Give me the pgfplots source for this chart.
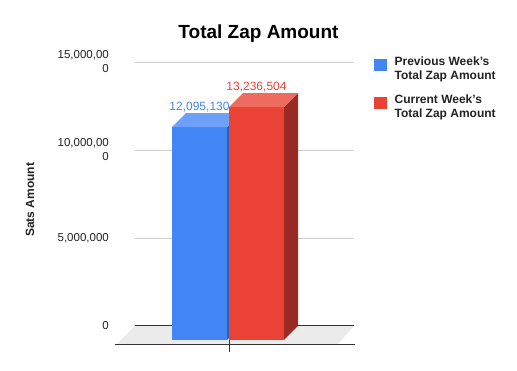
\documentclass[border=0pt]{standalone}
\usepackage{pgfplots}
\pgfplotsset{compat=1.18}
\usepackage{fontspec}
\setmainfont{Liberation Sans}
\definecolor{gblue}{HTML}{4285F4}
\definecolor{gbluetop}{HTML}{6FA0F7}
\definecolor{gblueside}{HTML}{2B5FB5}
\definecolor{gred}{HTML}{EA4335}
\definecolor{gredtop}{HTML}{EE6B5F}
\definecolor{gredside}{HTML}{992B24}
\definecolor{gridc}{HTML}{CCCCCC}
\definecolor{floorc}{HTML}{EBEBEB}
\definecolor{axc}{HTML}{333333}
\definecolor{txt}{HTML}{222222}
\begin{document}
\begin{tikzpicture}
\begin{axis}[
  width=517pt, height=371pt, scale only axis,
  xmin=0, xmax=517, ymin=-2556800, ymax=18522700,
  clip=false,
  axis line style={draw=none},
  tick style={draw=none},
  xtick=\empty,
  ytick={0,5000000,10000000,15000000},
  yticklabels={0,{5,000,000},{10,000,00\\0},{15,000,00\\0}},
  scaled y ticks=false,
  yticklabel style={align=right, inner sep=0pt, xshift=109pt, text=txt,
    font=\fontsize{11.5}{14}\selectfont},
  ylabel={Sats Amount},
  ylabel style={at={(axis description cs:0.058,0.461)}, anchor=center,
    font=\bfseries\fontsize{12}{14}\selectfont, text=txt},
  legend style={at={(axis cs:374,15284042)}, anchor=north west, draw=none, fill=none,
    inner sep=0pt, row sep=14pt, column sep=8pt,
    font=\bfseries\fontsize{12}{13.5}\selectfont, text=txt,
    nodes={align=left, inner sep=0pt}},
  legend cell align=left,
]
\addlegendimage{legend image code/.code={\fill[gblue] (0pt,-1pt) rectangle (12pt,10pt);}}
\addlegendentry{Previous Week's\\Total Zap Amount}
\addlegendimage{legend image code/.code={\fill[gred] (0pt,-1pt) rectangle (12pt,10pt);}}
\addlegendentry{Current Week's\\Total Zap Amount}
% grid lines
\addplot[gridc, line width=0.9pt, forget plot] coordinates {(135,5000000)(354,5000000)};
\addplot[gridc, line width=0.9pt, forget plot] coordinates {(135,10000000)(354,10000000)};
\addplot[gridc, line width=0.9pt, forget plot] coordinates {(135,15000000)(354,15000000)};
% floor
\addplot[fill=floorc, draw=none, forget plot] coordinates {(116,-1079542)(337,-1079542)(354,0)(135,0)};
\addplot[axc, line width=1pt, forget plot] coordinates {(135,0)(354,0)};
\addplot[axc, line width=1pt, forget plot] coordinates {(115,-1079542)(355,-1079542)};
% previous week bar (value 12095130)
\addplot[fill=gblueside, draw=none, forget plot] coordinates {(227,-795452)(241,0)(241,12095130)(227,11299678)};
\addplot[fill=gblue, draw=none, forget plot] coordinates {(172,-795452)(227,-795452)(227,11299678)(172,11299678)};
\addplot[fill=gbluetop, draw=none, forget plot] coordinates {(172,11299678)(227,11299678)(241,12095130)(186,12095130)};
% current week bar (value 13236504)
\addplot[fill=gredside, draw=none, forget plot] coordinates {(284,-795452)(298,0)(298,13236504)(284,12441052)};
\addplot[fill=gred, draw=none, forget plot] coordinates {(229,-795452)(284,-795452)(284,12441052)(229,12441052)};
\addplot[fill=gredtop, draw=none, forget plot] coordinates {(229,12441052)(284,12441052)(298,13236504)(243,13236504)};
% x tick
\addplot[axc, line width=1pt, forget plot] coordinates {(229,-795452)(229,-1477268)};
% data labels
\addplot[draw=none, forget plot, nodes near coords, point meta=explicit symbolic,
  nodes near coords style={anchor=center, text=gblue, font=\fontsize{12}{14}\selectfont}]
  coordinates {(199.5,12443142) [12,095,130]};
\addplot[draw=none, forget plot, nodes near coords, point meta=explicit symbolic,
  nodes near coords style={anchor=center, text=gred, font=\fontsize{12}{14}\selectfont}]
  coordinates {(256.5,13579502) [13,236,504]};
% title
\node[anchor=base, font=\bfseries\fontsize{19}{22}\selectfont, inner sep=0pt]
  at (axis description cs:0.5,0.8949) {Total Zap Amount};
\end{axis}
\pgfresetboundingbox
\useasboundingbox (current axis.south west) rectangle (current axis.north east);
\end{tikzpicture}
\end{document}
